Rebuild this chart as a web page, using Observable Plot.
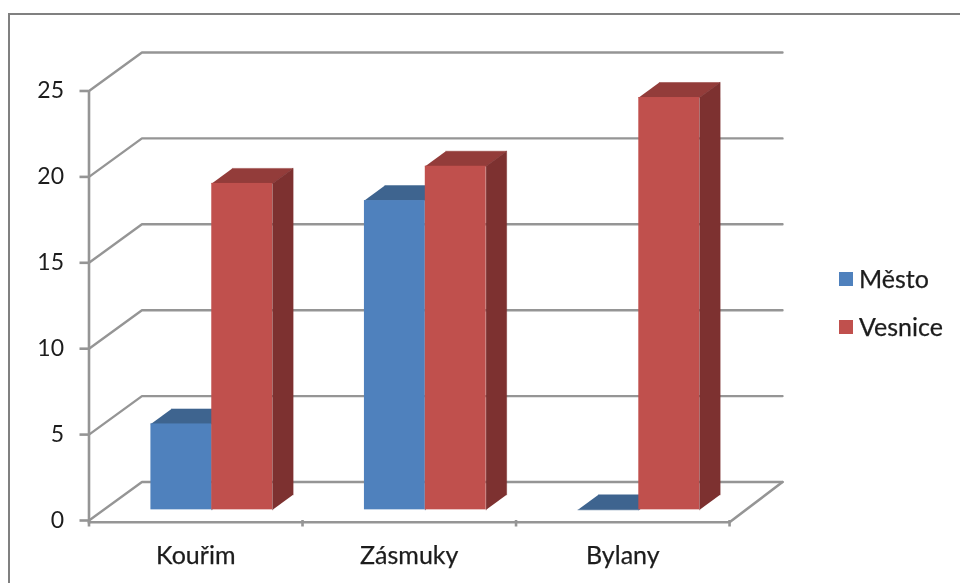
<!DOCTYPE html>
<html><head><meta charset="utf-8">
<script src="https://cdn.jsdelivr.net/npm/d3@7"></script>
<script src="https://cdn.jsdelivr.net/npm/@observablehq/plot@0.6"></script>
<style>
html,body{margin:0;padding:0;background:#fff;overflow:hidden}
#wrap{position:relative;width:960px;height:583px;overflow:hidden;font-family:Lato,sans-serif;color:#1c1c1c}
#frame{position:absolute;left:8px;top:13px;width:1000px;height:700px;border:2.5px solid #808080;filter:blur(.4px)}
#chart{position:absolute;left:0;top:0}
.lg{position:absolute;left:859px;font-size:25px;line-height:28px;color:#1c1c1c;-webkit-text-stroke:.25px #1c1c1c}
.sw{position:absolute;left:839px;width:14px;height:14px}
#wrap svg,.lg,.sw{filter:blur(.5px)}
</style></head><body>
<div id="wrap"><div id="frame"></div><div id="chart"></div>
<div id="legend"></div></div>
<script>
const categories = ["Kouřim", "Zásmuky", "Bylany"];
const mesto = [5, 18, 0];
const vesnice = [19, 20, 24];
const yTicks = [0, 5, 10, 15, 20, 25];
const xTicks = [0, 1, 2, 3];
const seriesNames = ["Město", "Vesnice"];
const frontColors = ["#4F81BD", "#C0504D"];
const topColors = ["#3E648F", "#933C3A"];
const sideColors = ["#33557C", "#7D3130"];

// pseudo-3D layout, in data units
const wallDX = 0.248, wallDY = 2.24;     // depth of the walls
const barDX = 0.096, barDY = 0.874;      // depth of a bar
const floorLift = 0.62, barStart = 0.29, barW = 0.285;
const gridColor = "#959595";

const gridPts = yTicks.flatMap(v => [
  {id: v, x: 0, y: v}, {id: v, x: wallDX, y: v + wallDY}, {id: v, x: 3 + wallDX, y: v + wallDY}
]);
const floorEdge = [{x: 0, y: -0.1}, {x: 3, y: -0.1}, {x: 3 + wallDX, y: wallDY}];

function bars(values, s) {
  return values.map((v, i) => {
    const x0 = i + barStart + s * barW;
    return {x0, x1: x0 + barW, y0: floorLift, y1: v + floorLift, s};
  });
}
function topFace(b, id) {
  return [[b.x0, b.y1], [b.x1, b.y1], [b.x1 + barDX, b.y1 + barDY], [b.x0 + barDX, b.y1 + barDY]]
    .map(([x, y]) => ({id, x, y}));
}
function sideFace(b, id) {
  return [[b.x1, b.y0], [b.x1, b.y1], [b.x1 + barDX, b.y1 + barDY], [b.x1 + barDX, b.y0 + barDY]]
    .map(([x, y]) => ({id, x, y}));
}
function barMarks(values, s) {
  const bs = bars(values, s);
  const marks = [
    Plot.line(bs.flatMap((b, i) => topFace(b, i)), {x: "x", y: "y", z: "id", fill: topColors[s], stroke: topColors[s], strokeWidth: 0.5}),
    Plot.line(bs.flatMap((b, i) => sideFace(b, i)), {x: "x", y: "y", z: "id", fill: sideColors[s], stroke: sideColors[s], strokeWidth: 0.5})
  ];
  marks.push(Plot.rect(bs.filter(b => b.y1 > b.y0), {x1: "x0", x2: "x1", y1: "y0", y2: "y1", fill: frontColors[s]}));
  return marks;
}

const chart = Plot.plot({
  width: 960, height: 583,
  marginLeft: 88.5, marginRight: 178, marginTop: 52, marginBottom: 63,
  style: {background: "transparent", fontFamily: "Lato, sans-serif", overflow: "visible"},
  x: {domain: [0, 3 + wallDX]},
  y: {domain: [0, 25 + wallDY]},
  marks: [
    Plot.line(gridPts, {x: "x", y: "y", z: "id", stroke: gridColor, strokeWidth: 2.4, fill: "none"}),
    Plot.ruleX([0], {y1: -0.2, y2: 25, stroke: gridColor, strokeWidth: 2.6}),
    Plot.line(floorEdge, {x: "x", y: "y", stroke: gridColor, strokeWidth: 2.6}),
    Plot.axisY({ticks: yTicks, tickSize: 9, tickPadding: 16, label: null, stroke: gridColor, strokeWidth: 2.6, fill: "#1c1c1c", fontSize: 23, anchor: "left"}),
    Plot.axisX({ticks: xTicks, tickSize: 6.5, tickFormat: () => "", label: null, stroke: gridColor, strokeWidth: 2.6, anchor: "bottom"}),
    Plot.text(categories, {x: (d, i) => i + 0.5, y: () => 0, text: d => d, dy: 35, fontSize: 25, fill: "#1c1c1c", stroke: "#1c1c1c", strokeWidth: 0.25}),
    ...barMarks(mesto, 0),
    ...barMarks(vesnice, 1)
  ]
});
document.getElementById("chart").append(chart);

const lg = document.getElementById("legend");
seriesNames.forEach((n, i) => {
  const top = 272 + i * 48;
  const sw = document.createElement("div");
  sw.className = "sw"; sw.style.top = top + "px"; sw.style.background = frontColors[i];
  const t = document.createElement("div");
  t.className = "lg"; t.style.top = (top - 8) + "px"; t.textContent = n;
  lg.append(sw, t);
});
</script>
</body></html>
